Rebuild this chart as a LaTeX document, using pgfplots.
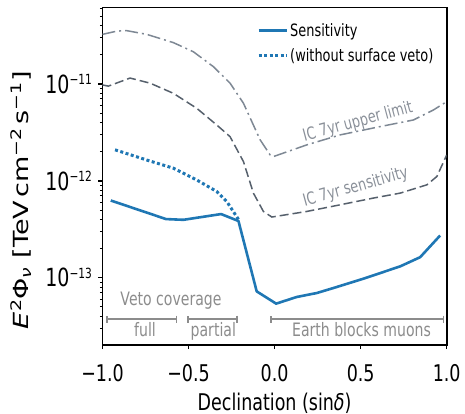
\documentclass[border=0pt]{standalone}
\usepackage{fontspec}
\setmainfont{DejaVu Sans}[FakeStretch=0.76]
\newfontfamily\rotfont{DejaVu Sans}[FakeStretch=1.3]
\usepackage{pgfplots}
\pgfplotsset{compat=1.18}
\usetikzlibrary{arrows.meta}

\definecolor{mplblue}{HTML}{1F77B4}
\definecolor{icdash}{HTML}{56606C}
\definecolor{icdot}{HTML}{7E8894}
\definecolor{annot}{HTML}{8C8C8C}
\definecolor{iclab}{HTML}{8A9099}

\newcommand\tickfont{\fontsize{23bp}{27bp}\selectfont}
\newcommand\legfont{\fontsize{17bp}{20bp}\selectfont}
\newcommand\annfont{\fontsize{18.5bp}{22bp}\selectfont}
\newcommand\icfont{\fontsize{17bp}{20bp}\selectfont}
\newcommand\ylab[1]{{\fontsize{25bp}{28bp}\selectfont 10}\raisebox{8.5bp}{\fontsize{14bp}{16bp}\selectfont #1}}

\begin{document}
\begin{tikzpicture}
\begin{axis}[
  scale only axis,
  width=344.2bp, height=337.7bp,
  xmin=-1, xmax=1,
  ymode=log, ymin=2.02e-14, ymax=6.18e-11,
  axis line style={line width=1.6bp},
  tick align=outside,
  xtick pos=bottom, ytick pos=left,
  major tick length=4bp, minor tick length=2.5bp,
  every major tick/.append style={line width=1.5bp, black},
  every minor tick/.append style={line width=1bp, black},
  xtick={-1,-0.5,0,0.5,1},
  xticklabels={−1.0,−0.5,0.0,0.5,1.0},
  ytick={1e-13,1e-12,1e-11},
  yticklabels={\ylab{−13},\ylab{−12},\ylab{−11}},
  minor ytick={2e-14,3e-14,4e-14,5e-14,6e-14,7e-14,8e-14,9e-14,
               2e-13,3e-13,4e-13,5e-13,6e-13,7e-13,8e-13,9e-13,
               2e-12,3e-12,4e-12,5e-12,6e-12,7e-12,8e-12,9e-12,
               2e-11,3e-11,4e-11,5e-11,6e-11},
  ticklabel style={font=\tickfont},
  xticklabel style={yshift=-12bp},
  yticklabel style={xshift=-3bp},
  xlabel={Declination (sin\textit{δ})},
  xlabel style={font=\tickfont, at={(axis description cs:0.5,0)}, anchor=base, yshift=-65bp},
  ylabel={\textit{E}\textsuperscript{2}Φ\textsubscript{\textit{ν}} [TeV\,cm\textsuperscript{−2}\,s\textsuperscript{−1}]},
  ylabel style={font=\rotfont\fontsize{20.8bp}{24bp}\selectfont, at={(axis description cs:-0.237,0.429)}, anchor=center, rotate=0},
  legend style={draw=none, fill=none, at={(rel axis cs:0.449,0.959)}, anchor=north west,
                font=\legfont, inner sep=0pt, row sep=7bp},
  legend cell align=left,
  legend image code/.code={\draw[#1] (0bp,0bp) -- (28bp,0bp);},
]
% IC 7yr upper limit (dash-dot)
\addplot[forget plot, icdot, line width=1.5bp, dash pattern=on 13bp off 4bp on 2bp off 4bp] table {
x y
-1.000 3.25e-11
-0.917 3.51e-11
-0.859 3.55e-11
-0.743 3.25e-11
-0.588 2.67e-11
-0.472 2.15e-11
-0.356 1.51e-11
-0.259 1.02e-11
-0.181 6.32e-12
-0.084 2.65e-12
-0.026 1.85e-12
-0.007 1.78e-12
0.187 2.35e-12
0.381 2.98e-12
0.613 3.63e-12
0.807 4.25e-12
0.923 5.39e-12
1.000 6.57e-12
};
% IC 7yr sensitivity (dashed)
\addplot[forget plot, icdash, line width=1.5bp, dash pattern=on 9bp off 4bp] table {
x y
-1.000 9.77e-12
-0.966 9.50e-12
-0.840 1.15e-11
-0.724 1.02e-11
-0.588 8.00e-12
-0.452 5.60e-12
-0.336 3.77e-12
-0.259 2.86e-12
-0.181 1.58e-12
-0.123 7.46e-13
-0.065 4.83e-13
-0.016 4.23e-13
0.187 4.83e-13
0.381 5.66e-13
0.574 6.64e-13
0.730 7.47e-13
0.885 9.10e-13
0.943 1.11e-12
1.000 1.85e-12
};
% sensitivity
\addplot[mplblue, line width=2.6bp, line join=round] table {
x y
-0.952 6.27e-13
-0.631 4.03e-13
-0.530 3.96e-13
-0.311 4.54e-13
-0.210 3.85e-13
-0.104 7.23e-14
0.009 5.40e-14
0.129 6.33e-14
0.245 6.95e-14
0.342 7.83e-14
0.516 9.77e-14
0.730 1.31e-13
0.846 1.63e-13
0.962 2.73e-13
};
\addlegendentry{Sensitivity}
% without surface veto
\addplot[mplblue, line width=3bp, dash pattern=on 3bp off 2.5bp] table {
x y
-0.927 2.09e-12
-0.743 1.64e-12
-0.588 1.35e-12
-0.452 1.02e-12
-0.336 7.76e-13
-0.278 6.12e-13
-0.210 4.00e-13
};
\addlegendentry{(without surface veto)}

\node[rotate=15, font=\icfont, text=iclab, anchor=base] at (axis cs:0.491,3.62e-12) {IC 7yr upper limit};
\node[rotate=15.4, font=\icfont, text=iclab, anchor=base] at (axis cs:0.478,7.70e-13) {IC 7yr sensitivity};

\node[font=\annfont, text=annot, anchor=base] at (axis cs:-0.602,5.22e-14) {Veto coverage};
\draw[annot, line width=1.6bp, {Bar[width=7bp]}-{Bar[width=7bp]}] (axis cs:-0.980,3.745e-14) -- (axis cs:-0.565,3.745e-14);
\draw[annot, line width=1.6bp, {Bar[width=7bp]}-{Bar[width=7bp]}] (axis cs:-0.507,3.745e-14) -- (axis cs:-0.214,3.745e-14);
\draw[annot, line width=1.6bp, {Bar[width=7bp]}-{Bar[width=7bp]}] (axis cs:-0.026,3.745e-14) -- (axis cs:0.987,3.745e-14);
\node[font=\annfont, text=annot, anchor=base] at (axis cs:-0.753,2.46e-14) {full};
\node[font=\annfont, text=annot, anchor=base] at (axis cs:-0.356,2.46e-14) {partial};
\node[font=\annfont, text=annot, anchor=base] at (axis cs:0.505,2.46e-14) {Earth blocks muons};

\coordinate (bl) at (rel axis cs:0,0);
\end{axis}
\pgfresetboundingbox
\path[use as bounding box] ([shift={(-102.5bp,-69bp)}]bl) rectangle ([shift={(362.5bp,345bp)}]bl);
\end{tikzpicture}
\end{document}
